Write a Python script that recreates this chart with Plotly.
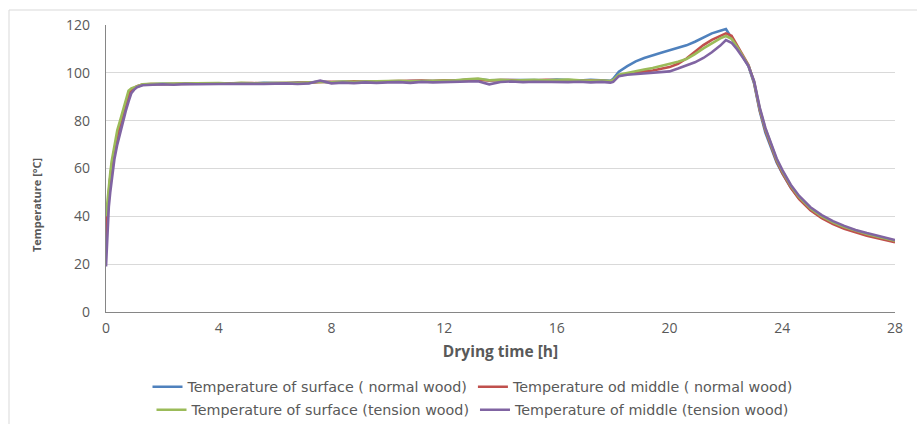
import plotly.graph_objects as go

time_h = [0, 0.05, 0.1, 0.15, 0.2, 0.3, 0.4, 0.5, 0.6, 0.7, 0.8, 0.9, 1.0, 1.1, 1.3,
          1.6, 2.0, 2.4, 2.8, 3.2, 3.6, 4.0, 4.4, 4.8, 5.2, 5.6, 6.0, 6.4, 6.8, 7.2, 7.6,
          8.0, 8.4, 8.8, 9.2, 9.6, 10.0, 10.4, 10.8, 11.2, 11.6, 12.0, 12.4, 12.8, 13.2,
          13.6, 14.0, 14.4, 14.8, 15.2, 15.6, 16.0, 16.4, 16.8, 17.2, 17.6, 17.9,
          18.0, 18.2, 18.5, 18.8, 19.1, 19.4, 19.7, 20.0, 20.3, 20.6, 20.9, 21.2, 21.5, 21.8, 22.0,
          22.2, 22.4, 22.6, 22.8, 23.0, 23.2, 23.4, 23.6, 23.8, 24.0, 24.3, 24.6, 25.0, 25.4,
          25.8, 26.2, 26.6, 27.0, 27.5, 28.0]

surface_normal = [33, 42, 50, 56, 61, 68, 74, 78, 82, 86, 90, 92.5, 93.5, 94.2, 95.0,
                  95.2, 95.4, 95.3, 95.5, 95.4, 95.6, 95.5, 95.7, 95.6, 95.5, 95.8, 95.7, 95.6, 95.9, 95.8, 96.4,
                  96.0, 96.3, 96.1, 96.4, 96.2, 96.5, 96.3, 96.6, 96.5, 96.7, 96.6, 96.8, 97.0, 97.3,
                  96.9, 97.0, 96.8, 97.1, 97.0, 96.9, 97.2, 97.0, 96.8, 97.1, 96.9, 96.7,
                  97.5, 100.5, 102.8, 104.8, 106.2, 107.4, 108.4, 109.4, 110.4, 111.5, 113.0, 114.8, 116.5, 117.6, 118.3,
                  114.6, 110.8, 106.8, 102.8, 95.5, 84.0, 75.0, 68.5, 62.5, 58.0, 52.0, 47.4, 42.8, 39.6,
                  37.2, 35.2, 33.6, 32.3, 30.9, 29.6]

middle_normal = [30, 41, 50, 56, 61, 68, 74, 79, 83, 87, 91, 93, 93.8, 94.4, 95.1,
                 95.3, 95.2, 95.4, 95.4, 95.5, 95.5, 95.6, 95.6, 95.5, 95.7, 95.6, 95.8, 95.7, 95.8, 96.0, 96.2,
                 96.3, 96.1, 96.5, 96.3, 96.4, 96.6, 96.5, 96.7, 96.8, 96.6, 96.9, 96.7, 97.1, 97.0,
                 96.8, 97.0, 96.9, 97.0, 96.8, 97.1, 96.9, 96.8, 96.6, 96.9, 96.7, 96.5,
                 96.8, 98.8, 99.6, 100.2, 100.6, 101.0, 101.6, 102.4, 103.8, 106.0, 108.8, 111.6, 113.8, 115.6, 116.5,
                 115.5, 111.6, 107.5, 103.3, 96.0, 84.5, 76.0, 69.2, 63.0, 58.2, 52.0, 47.2, 42.5, 39.2,
                 36.8, 34.8, 33.2, 31.9, 30.5, 29.2]

surface_tension = [40, 47, 53, 58, 63, 70, 76, 80, 84, 88, 92.5, 93.5, 94, 94.5, 95.2,
                   95.4, 95.5, 95.3, 95.6, 95.5, 95.6, 95.7, 95.5, 95.8, 95.6, 95.7, 95.9, 95.8, 95.7, 96.1, 96.3,
                   96.0, 96.4, 96.2, 96.3, 96.6, 96.4, 96.7, 96.5, 96.6, 96.8, 96.7, 96.9, 97.3, 97.6,
                   96.9, 97.1, 96.8, 97.0, 97.1, 96.9, 97.0, 97.2, 96.9, 97.0, 96.8, 96.6,
                   97.0, 99.2, 100.0, 100.8, 101.4, 102.0, 102.8, 103.6, 104.6, 105.8, 107.8, 110.2, 112.4, 114.4, 115.4,
                   114.2, 110.8, 107.0, 103.0, 96.2, 85.0, 76.6, 69.8, 63.7, 58.9, 52.8, 48.0, 43.3, 40.0,
                   37.5, 35.5, 33.9, 32.6, 31.2, 29.8]

middle_tension = [19, 35, 44, 50, 55, 64, 70, 75, 80, 84, 88, 91.5, 93, 94, 94.8,
                  95.1, 95.2, 95.0, 95.3, 95.2, 95.4, 95.3, 95.4, 95.3, 95.5, 95.4, 95.5, 95.6, 95.3, 95.6, 96.8,
                  95.6, 95.9, 95.7, 96.0, 95.8, 96.0, 96.1, 95.8, 96.2, 96.0, 96.1, 96.3, 96.1, 96.5,
                  95.2, 96.2, 96.4, 96.1, 96.3, 96.2, 96.4, 96.1, 96.3, 96.0, 96.2, 95.9,
                  96.2, 98.6, 99.2, 99.5, 99.8, 100.0, 100.3, 100.6, 101.8, 103.0, 104.4, 106.2, 108.6, 111.4, 113.7,
                  112.6, 109.8, 106.4, 102.8, 96.5, 85.5, 77.0, 70.2, 64.2, 59.4, 53.2, 48.5, 43.8, 40.5,
                  38.0, 36.0, 34.3, 33.0, 31.5, 30.1]

series_names = ["Temperature of surface ( normal wood)",
                "Temperature od middle ( normal wood)",
                "Temperature of surface (tension wood)",
                "Temperature of middle (tension wood)"]
series_values = [surface_normal, middle_normal, surface_tension, middle_tension]
series_colors = ["#4F81BD", "#C0504D", "#9BBB59", "#8064A2"]
series_legends = ["legend", "legend", "legend2", "legend2"]

x_ticks = [0, 4, 8, 12, 16, 20, 24, 28]
y_ticks = [0, 20, 40, 60, 80, 100, 120]

TXT = "#595959"
FONT = "Open Sans"

fig = go.Figure()
for name, vals, col, lg in zip(series_names, series_values, series_colors, series_legends):
    fig.add_trace(go.Scatter(x=time_h, y=vals, mode="lines", name=name,
                             line=dict(color=col, width=2.6), legend=lg))

legend_common = dict(orientation="h", xanchor="center", yanchor="middle",
                     xref="container", yref="container",
                     font=dict(family="DejaVu Sans", size=14.3, color=TXT),
                     bgcolor="rgba(0,0,0,0)", tracegroupgap=0, itemwidth=30)

fig.update_layout(
    width=917, height=424,
    margin=dict(l=106, r=22, t=25, b=112, autoexpand=False),
    paper_bgcolor="white", plot_bgcolor="white",
    font=dict(family=FONT, color=TXT),
    showlegend=True,
    legend=dict(x=473 / 917, y=1 - 387 / 424, **legend_common),
    legend2=dict(x=473 / 917, y=1 - 410 / 424, **legend_common),
    xaxis=dict(range=[0, 28], tickvals=x_ticks, showgrid=False, zeroline=False,
               showline=True, linecolor="#868686", linewidth=1.3, ticks="",
               ticklabelstandoff=3,
               tickfont=dict(family=FONT, size=14, color=TXT), automargin=False,
               title=dict(text="<b>Drying time [h]</b>", font=dict(family=FONT, size=15.5, color=TXT), standoff=10)),
    yaxis=dict(range=[0, 120], tickvals=y_ticks, showgrid=True, gridcolor="#d9d9d9", gridwidth=1,
               zeroline=False, showline=True, linecolor="#868686", linewidth=1.3, ticks="",
               ticklabelstandoff=12, automargin=False,
               tickfont=dict(family=FONT, size=14, color=TXT)),
    annotations=[dict(text="<b>Temperature [°C]</b>", textangle=-90, xref="paper", yref="paper",
                      x=(36 - 106) / 789, y=(312 - 205) / 287, xanchor="center", yanchor="middle",
                      showarrow=False,
                      font=dict(family=FONT, size=11, color=TXT))],
    shapes=[dict(type="rect", xref="paper", yref="paper",
                 x0=(9 - 106) / 789, x1=(925 - 106) / 789,
                 y0=(312 - 430) / 287, y1=(312 - 10) / 287,
                 line=dict(color="#d9d9d9", width=1), fillcolor="rgba(0,0,0,0)", layer="below")],
)

fig.write_html("out.html", config={"displayModeBar": False},
               post_script="document.body.style.margin='0';document.body.style.padding='0';"
                           "document.documentElement.style.overflow='hidden';")
